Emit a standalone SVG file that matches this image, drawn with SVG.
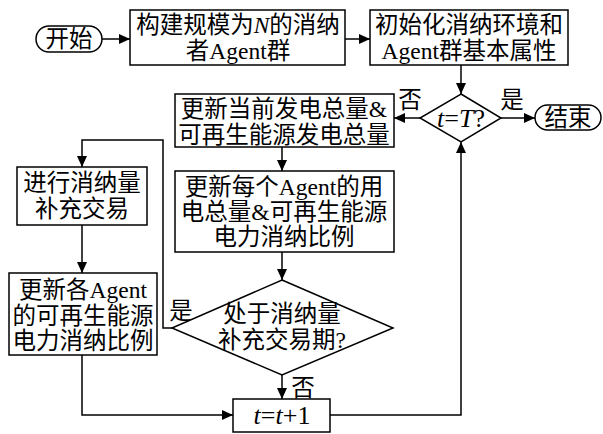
<svg xmlns="http://www.w3.org/2000/svg" width="603" height="434" viewBox="0 0 603 434">
<defs>
<marker id="arr" markerUnits="userSpaceOnUse" markerWidth="12" markerHeight="10" refX="11" refY="5" orient="auto">
<path d="M0,0 L11,5 L0,10 z" fill="#000"/>
</marker>
<style>
.s{fill:#fff;stroke:#000;stroke-width:1.5}
.c{fill:none;stroke:#000;stroke-width:1.5}
text{font-family:"Liberation Serif","Noto Sans CJK SC",serif;font-size:23.5px;fill:#000;text-anchor:middle}
.i{font-style:italic}
.m{font-size:26px}
</style>
</defs>
<rect width="603" height="434" fill="#fff"/>
<g id="connectors">
<path class="c" d="M102,39 H130" marker-end="url(#arr)"/>
<path class="c" d="M345,39 H370" marker-end="url(#arr)"/>
<path class="c" d="M461,65 V94" marker-end="url(#arr)"/>
<path class="c" d="M420,118 H394" marker-end="url(#arr)"/>
<path class="c" d="M501,118 H535" marker-end="url(#arr)"/>
<path class="c" d="M282,147 V171" marker-end="url(#arr)"/>
<path class="c" d="M282,252 V280" marker-end="url(#arr)"/>
<path class="c" d="M282,375 V399" marker-end="url(#arr)"/>
<path class="c" d="M330,415 H461 V142" marker-end="url(#arr)"/>
<path class="c" d="M172,328 H163 V140 H82 V167" marker-end="url(#arr)"/>
<path class="c" d="M82,225 V273" marker-end="url(#arr)"/>
<path class="c" d="M82,355 V415 H233" marker-end="url(#arr)"/>
<text x="410" y="108">否</text>
<text x="512" y="108">是</text>
<text x="181" y="319">是</text>
<text x="303" y="396">否</text>
</g>
<g id="start">
<rect class="s" x="36" y="26" width="66" height="26" rx="13"/>
<text x="69" y="47">开始</text>
</g>
<g id="build">
<rect class="s" x="130" y="10" width="215" height="55"/>
<text x="238" y="33">构建规模为<tspan class="i">N</tspan>的消纳</text>
<text x="238" y="59">者Agent群</text>
</g>
<g id="init">
<rect class="s" x="370" y="10" width="198" height="55"/>
<text x="469" y="33">初始化消纳环境和</text>
<text x="469" y="59">Agent群基本属性</text>
</g>
<g id="check-t">
<polygon class="s" points="461,94 501,118 461,142 420,118"/>
<text class="m" x="461" y="127"><tspan class="i">t</tspan>=<tspan class="i">T</tspan>?</text>
</g>
<g id="end">
<rect class="s" x="535" y="105" width="66" height="25" rx="12.5"/>
<text x="568" y="126">结束</text>
</g>
<g id="update-gen">
<rect class="s" x="175" y="94" width="219" height="53"/>
<text x="284" y="117">更新当前发电总量&amp;</text>
<text x="284" y="143">可再生能源发电总量</text>
</g>
<g id="update-agent">
<rect class="s" x="175" y="171" width="219" height="81"/>
<text x="284" y="195">更新每个Agent的用</text>
<text x="284" y="220">电总量&amp;可再生能源</text>
<text x="284" y="245">电力消纳比例</text>
</g>
<g id="check-period">
<polygon class="s" points="282,280 393,328 282,375 172,328"/>
<text x="282" y="322">处于消纳量</text>
<text x="282" y="348">补充交易期?</text>
</g>
<g id="trade">
<rect class="s" x="17" y="167" width="130" height="58"/>
<text x="82" y="191">进行消纳量</text>
<text x="82" y="217">补充交易</text>
</g>
<g id="update-ratio">
<rect class="s" x="9" y="273" width="148" height="82"/>
<text x="83" y="298">更新各Agent</text>
<text x="83" y="324">的可再生能源</text>
<text x="83" y="349">电力消纳比例</text>
</g>
<g id="increment">
<rect class="s" x="233" y="399" width="97" height="33"/>
<text class="m" x="282" y="424"><tspan class="i">t</tspan>=<tspan class="i">t</tspan>+1</text>
</g>
</svg>
